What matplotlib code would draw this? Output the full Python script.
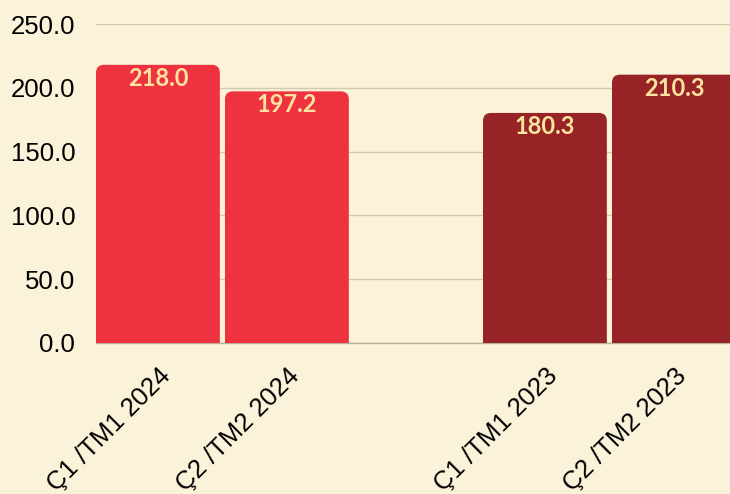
import matplotlib.pyplot as plt
from matplotlib.patches import FancyBboxPatch

# Data
labels = ['Ç1 /TM1 2024', 'Ç2 /TM2 2024', '', 'Ç1 /TM1 2023', 'Ç2 /TM2 2023']
values = [218.0, 197.2, None, 180.3, 210.3]
colors = ['#EE323F', '#EE323F', None, '#982326', '#982326']
yticks = [0, 50, 100, 150, 200, 250]

bg = '#FAF2D9'
fig = plt.figure(figsize=(7.3, 4.94), dpi=100, facecolor=bg)
ax = fig.add_axes([96 / 730, (494 - 343) / 494, (730 - 96) / 730, (343 - 24) / 494])
ax.set_facecolor(bg)

width = 0.96
ax.set_xlim(-width / 2, -width / 2 + 634 / 129)
ax.set_ylim(0, 250)

# rounded top corners: radius in x data units, aspect converts to y units
px_x = 129.0      # pixels per x unit
px_y = 319 / 250  # pixels per y unit
r = 8 / px_x
aspect = (1 / px_y) / (1 / px_x)

for i, (v, c) in enumerate(zip(values, colors)):
    if v is None:
        continue
    box = FancyBboxPatch((i - width / 2, -20), width, v + 20,
                         boxstyle=f'round,pad=0,rounding_size={r}',
                         mutation_aspect=aspect, fc=c, ec='none', zorder=3)
    ax.add_patch(box)
    ax.text(i, v - 1.5, f'{v:.1f}', ha='center', va='top', color='#FBE3A0',
            fontsize=17, fontfamily='Lato', fontweight='bold', zorder=4)

ax.set_yticks(yticks)
ax.set_yticklabels([f'{t:.1f}' for t in yticks], fontsize=18.5, fontfamily='Liberation Sans')

# category labels, rotated 45 degrees below each bar
ax.set_xticks(range(len(labels)))
ax.set_xticklabels([])
for i, lab in enumerate(labels):
    ax.annotate(lab, xy=(i, 0), xycoords=('data', 'axes fraction'),
                xytext=(6.5, -21), textcoords='offset points',
                rotation=45, ha='right', va='center', rotation_mode='anchor',
                fontsize=18.5, fontfamily='Liberation Sans', annotation_clip=False)

ax.tick_params(axis='both', length=0)
ax.tick_params(axis='y', pad=15)

ax.grid(axis='y', color='#D3CBAE', lw=1, zorder=0)
ax.set_axisbelow(True)
for s in ['left', 'right', 'top']:
    ax.spines[s].set_visible(False)
ax.spines['bottom'].set_color('#B8B09A')
ax.spines['bottom'].set_linewidth(1)

fig.savefig('out.png', dpi=100, facecolor=bg)
